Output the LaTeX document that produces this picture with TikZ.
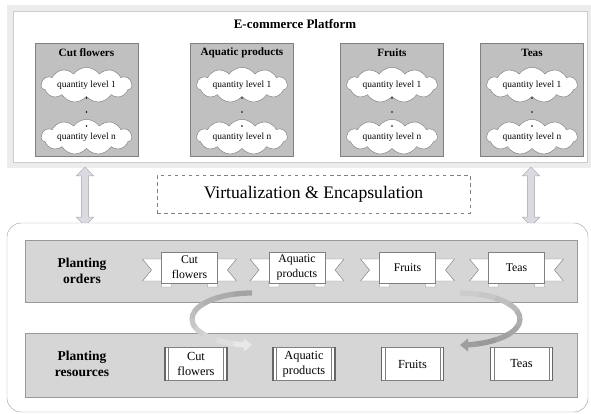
\documentclass[tikz,border=0pt]{standalone}
\usepackage{fontspec}
\setmainfont{Liberation Serif}
\usetikzlibrary{arrows.meta,positioning,shapes.symbols,shapes.arrows}
\definecolor{halo}{RGB}{236,236,236}
\definecolor{catg}{RGB}{192,192,192}
\definecolor{bandg}{RGB}{214,214,214}
\definecolor{edge}{RGB}{128,128,128}
\definecolor{arrg}{RGB}{218,218,226}

\begin{document}
\begin{tikzpicture}[x=0.85pt,y=-0.85pt,>=Latex,
cat/.style={rectangle,draw=edge,fill=catg,minimum width=87.5pt,minimum height=96pt},
cl/.style={cloud,cloud puffs=11,cloud puff arc=110,cloud ignores aspect,draw=edge,fill=white,
  inner sep=0pt,minimum width=77pt,minimum height=30pt,font=\fontsize{8}{9}\selectfont},
band/.style={draw=edge!80,fill=bandg},
tl/.style={draw=edge,fill=white},
rb/.style={draw=edge,fill=white,minimum width=47.5pt,minimum height=26.5pt,inner sep=1pt,
  align=center,font=\fontsize{10}{12.5}\selectfont},
sc/.style={draw=edge,fill=white,minimum width=52.5pt,minimum height=28pt,inner sep=1pt,
  align=center,font=\fontsize{10.5}{12.5}\selectfont},
lb/.style={align=center,font=\fontsize{11.5}{13}\selectfont\bfseries},
dbl/.style={double arrow,rotate=90,draw=edge!70,fill=arrg,minimum height=50pt,
  inner sep=2.8pt,double arrow head extend=4.5pt}]
\useasboundingbox (0,0) rectangle (591,414);
% platform
\fill[halo] (7,5) rectangle (591,168);
\draw[draw=edge!40,fill=white] (13,11) rectangle (587,162);
\node[font=\fontsize{11}{13}\selectfont\bfseries] (plat) at (295,24) {E-commerce Platform};
\foreach \x/\t [count=\i] in {86.5/Cut flowers,242/Aquatic products,392/Fruits,532/Teas}{
\node[cat] (c\i) at (\x,99.5) {};
\node[font=\fontsize{9.5}{11}\selectfont\bfseries] (ct\i) at (\x,53) {\t};
\node[cl] (q\i) at (\x,85) {quantity level 1};
\node[cl] (n\i) at (\x,137) {quantity level n};
\foreach \y in {98,112,126} \fill (\x,\y) circle (0.9);}
% middle
\node[dbl] (al) at (85,196.5) {};
\node[dbl] (ar) at (531,196.5) {};
\node[draw=edge,dashed,minimum width=266pt,minimum height=32pt,
font=\fontsize{15}{18}\selectfont] (virt) at (313.5,194) {Virtualization \& Encapsulation};
% planting side
\draw[draw=edge!70,fill=white,rounded corners=12] (7,223) rectangle (588,412);
\draw[band] (25,240) rectangle (577,302);
\draw[band] (25,333) rectangle (577,397);
\node[lb] (lo) at (82,271) {Planting\\orders};
\node[lb] (lr) at (82,364) {Planting\\resources};
% cycle arrows
\coordinate (lc) at (252,319); \coordinate (rc) at (460,319);
\foreach \a [evaluate=\a as \g using {int(8+(\a-90)*0.16)}] in {270,252,...,126}
\draw[line width=4.5pt,black!\g] ([shift={(\a:60 and 26)}]lc) arc[start angle=\a,end angle=\a-20,x radius=60,y radius=26];
\draw[line width=4.5pt,black!9,-{Triangle[length=7pt,width=11pt]}] ([shift={(108:60 and 26)}]lc)
arc[start angle=108,end angle=90,x radius=60,y radius=26];
\foreach \a [evaluate=\a as \g using {int(20+(\a+90)*0.14)}] in {-90,-72,...,54}
\draw[line width=4.5pt,black!\g] ([shift={(\a:60 and 26)}]rc) arc[start angle=\a,end angle=\a+20,x radius=60,y radius=26];
\draw[line width=4.5pt,black!38,-{Triangle[length=7pt,width=11pt]}] ([shift={(72:60 and 26)}]rc)
arc[start angle=72,end angle=90,x radius=60,y radius=26];
% orders
\foreach \x/\t [count=\i] in {189.5/Cut\\flowers,297/Aquatic\\products,407.5/Fruits,516.5/Teas}{
\draw[tl] (\x-47,259) -- (\x-18,259) -- (\x-18,287) -- (\x-28,287) -- (\x-28,281) -- (\x-47,281) -- (\x-38,270) -- cycle;
\draw[tl] (\x+47,259) -- (\x+18,259) -- (\x+18,287) -- (\x+28,287) -- (\x+28,281) -- (\x+47,281) -- (\x+38,270) -- cycle;
\node[rb] (o\i) at (\x,267.5) {\t};}
% resources
\foreach \x/\t [count=\i] in {196/Cut\\flowers,304/Aquatic\\products,412.5/Fruits,521.5/Teas}{
\node[sc] (r\i) at (\x,364) {\t};
\draw[edge!80!black,line width=1.2pt] (r\i.north west) -- (r\i.south west) (r\i.north east) -- (r\i.south east);
\draw[edge] ([xshift=3pt]r\i.north west) -- ([xshift=3pt]r\i.south west)
([xshift=-3pt]r\i.north east) -- ([xshift=-3pt]r\i.south east);}
\end{tikzpicture}
\end{document}
